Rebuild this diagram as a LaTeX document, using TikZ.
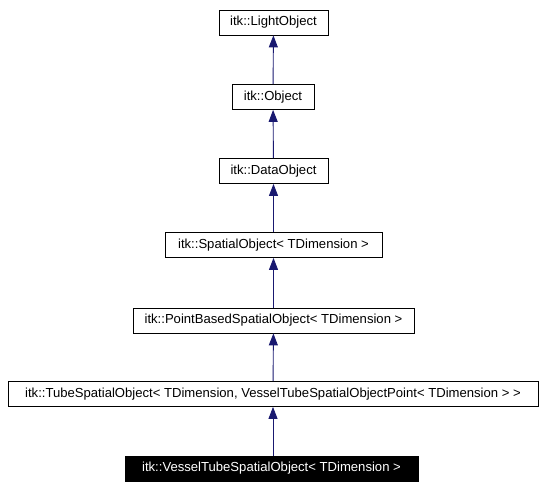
\documentclass[tikz,border=0pt]{standalone}
\usepackage{fontspec}
\setmainfont{Liberation Sans}
\usetikzlibrary{arrows.meta}
\definecolor{navy}{RGB}{25,25,112}

\begin{document}
\begin{tikzpicture}[x=1pt, y=-1pt,
    every node/.style={font=\fontsize{13.1}{15}\selectfont},
    cls/.style={draw, line width=0.8pt, minimum height=25pt, inner sep=0pt},
    inherit/.style={navy, line width=0.9pt, -{Triangle[length=12pt, width=9pt]}}]
    \useasboundingbox (0,0) rectangle (546,490);
    \node[cls, minimum width=109pt] (light) at (273.5,22.5) {itk::LightObject};
    \node[cls, minimum width=82pt] (obj) at (273,97) {itk::Object};
    \node[cls, minimum width=109pt] (data) at (273.5,171) {itk::DataObject};
    \node[cls, minimum width=217pt] (spatial) at (273.5,245) {itk::SpatialObject< TDimension >};
    \node[cls, minimum width=281pt] (pbased) at (273.5,320.5) {itk::PointBasedSpatialObject< TDimension >};
    \node[cls, minimum width=530pt] (tube) at (273,394) {itk::TubeSpatialObject< TDimension, VesselTubeSpatialObjectPoint< TDimension > >};
    \node[cls, fill=black, text=white, minimum width=293pt] (vessel) at (271.5,468.5) {itk::VesselTubeSpatialObject< TDimension >};

    \draw[inherit] (obj) -- (light);
    \draw[inherit] (data) -- (obj);
    \draw[inherit] (spatial) -- (data);
    \draw[inherit] (pbased) -- (spatial);
    \draw[inherit] (tube) -- (pbased);
    \draw[inherit] (vessel.north -| tube) -- (tube);
\end{tikzpicture}
\end{document}
